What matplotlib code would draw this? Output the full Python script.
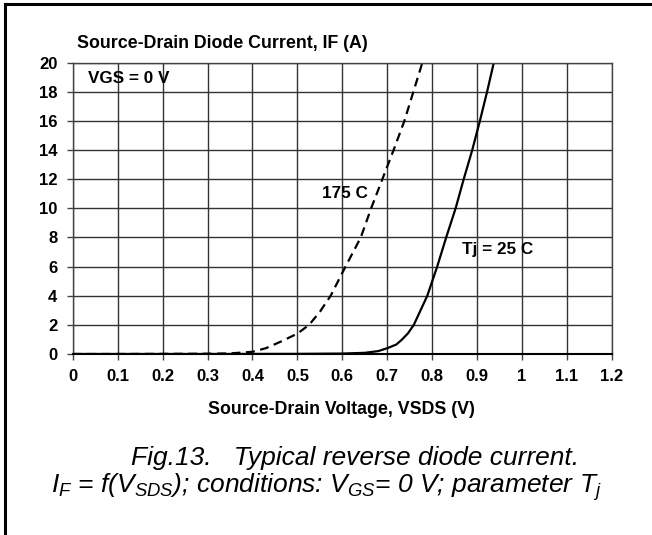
import matplotlib
matplotlib.use("Agg")
import matplotlib.pyplot as plt
from matplotlib.lines import Line2D

plt.rcParams['font.family'] = ['Liberation Sans', 'DejaVu Sans']
plt.rcParams['mathtext.fontset'] = 'custom'
plt.rcParams['mathtext.rm'] = 'Liberation Sans:italic'
plt.rcParams['mathtext.it'] = 'Liberation Sans:italic'

# 175 C curve (dashed)
v_175 = [0, 0.1, 0.2, 0.3, 0.35, 0.4, 0.43, 0.463, 0.5, 0.526, 0.55, 0.574,
         0.607, 0.641, 0.664, 0.689, 0.714, 0.738, 0.758, 0.778]
i_175 = [0, 0, 0.01, 0.02, 0.04, 0.15, 0.4, 0.85, 1.4, 2, 2.9, 4,
         6, 8, 10, 12, 14, 16, 18, 20]

# Tj = 25 C curve (solid)
v_25 = [0, 0.3, 0.5, 0.6, 0.65, 0.68, 0.7, 0.72, 0.733, 0.746, 0.759, 0.789, 0.811,
        0.831, 0.852, 0.87, 0.889, 0.906, 0.922, 0.937]
i_25 = [0, 0, 0.01, 0.03, 0.08, 0.2, 0.4, 0.65, 1, 1.42, 2, 4, 6,
        8, 10, 12, 14, 16, 18, 20]

xticks = [0, 0.1, 0.2, 0.3, 0.4, 0.5, 0.6, 0.7, 0.8, 0.9, 1.0, 1.1, 1.2]
xticklabels = ['0', '0.1', '0.2', '0.3', '0.4', '0.5', '0.6', '0.7', '0.8', '0.9', '1', '1.1', '1.2']
yticks = [0, 2, 4, 6, 8, 10, 12, 14, 16, 18, 20]

W, H = 652, 535
fig = plt.figure(figsize=(W / 100, H / 100), dpi=100)
ax = fig.add_axes([72.7 / W, 1 - 354 / H, (612 - 72.7) / W, (354 - 62.7) / H])

ax.plot(v_175, i_175, color='black', lw=1.6, ls=(0, (4, 2.5)))
ax.plot(v_25, i_25, color='black', lw=1.6)

ax.set_xlim(0, 1.2)
ax.set_ylim(0, 20)
ax.set_xticks(xticks)
ax.set_xticklabels(xticklabels, fontsize=12, fontweight='bold')
ax.set_yticks(yticks)
ax.set_yticklabels([str(t) for t in yticks], fontsize=12, fontweight='bold')
ax.tick_params(direction='out', length=4.5, width=1, color='#444444')
ax.tick_params(axis='y', pad=6.5)
ax.tick_params(axis='x', pad=6)
ax.grid(True, color='#333333', lw=1)
for s in ax.spines.values():
    s.set_color('#444444')
    s.set_linewidth(1)
ax.spines['bottom'].set_color('black')
ax.spines['bottom'].set_linewidth(1.5)

fig.text(341 / W, 1 - 410 / H, 'Source-Drain Voltage, VSDS (V)',
         fontsize=12.75, fontweight='bold', va='center', ha='center')
fig.text(77 / W, 1 - 44 / H, 'Source-Drain Diode Current, IF (A)',
         fontsize=12.75, fontweight='bold', va='center', ha='left')

ax.text(0.034, 18.9, 'VGS = 0 V', fontsize=12.3, fontweight='bold', va='center', ha='left')
ax.text(0.656, 11.0, '175 C', fontsize=12.3, fontweight='bold', va='center', ha='right')
ax.text(0.867, 7.2, 'Tj = 25 C', fontsize=12.3, fontweight='bold', va='center', ha='left')

fig.text(355 / W, 1 - 458 / H, 'Fig.13.   Typical reverse diode current.',
         fontsize=19, style='italic', ha='center', va='center')
fig.text(326 / W, 1 - 487 / H,
         '$I_F$ = f($V_{SDS}$); conditions: $V_{GS}$= 0 V; parameter $T_j$',
         fontsize=19, style='italic', ha='center', va='center')

# frame around the figure (left and top edges visible)
fig.add_artist(Line2D([5 / W, 5 / W], [0, 1 - 4 / H], color='black', lw=2.2,
                      transform=fig.transFigure))
fig.add_artist(Line2D([5 / W, 1], [1 - 4 / H, 1 - 4 / H], color='black', lw=2.2,
                      transform=fig.transFigure))

fig.savefig('out.png', dpi=100)
